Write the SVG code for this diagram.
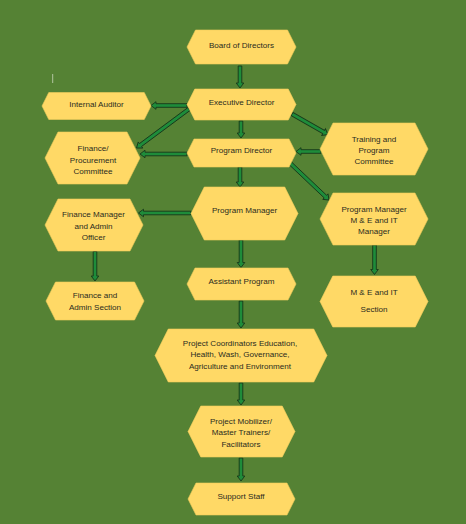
<svg xmlns="http://www.w3.org/2000/svg" width="466" height="524" viewBox="0 0 466 524">
<style>
.node polygon{fill:#FFD966;stroke:#F2CC5C;stroke-width:0.6}
.node text{font-family:"Liberation Sans",Arial,sans-serif;font-size:8.1px;fill:#2b2b20;text-anchor:middle}
.arr{fill:#1E8C3A;stroke:#17381A;stroke-width:0.9;stroke-linejoin:miter}
</style>
<rect width="466" height="524" fill="#558234"/>
<line x1="52.7" y1="74" x2="52.7" y2="83" stroke="#c9d6bd" stroke-width="0.8"/>
<g id="connectors">
<path class="arr" transform="translate(240,66) rotate(90)" d="M0,-1.8H17V-3.8L22,0L17,3.8V1.8H0Z"/>
<path class="arr" transform="translate(241,121) rotate(90)" d="M0,-1.8H12V-3.8L17,0L12,3.8V1.8H0Z"/>
<path class="arr" transform="translate(240,167) rotate(90)" d="M0,-1.8H15V-3.8L20,0L15,3.8V1.8H0Z"/>
<path class="arr" transform="translate(187,105.5) rotate(180)" d="M0,-1.8H31V-3.8L36,0L31,3.8V1.8H0Z"/>
<path class="arr" transform="translate(189,109) rotate(143.4)" d="M0,-1.8H60.4V-3.8L65.4,0L60.4,3.8V1.8H0Z"/>
<path class="arr" transform="translate(187,154) rotate(180)" d="M0,-1.8H42V-3.8L47,0L42,3.8V1.8H0Z"/>
<path class="arr" transform="translate(292,114) rotate(29.7)" d="M0,-1.8H36.4V-3.8L41.4,0L36.4,3.8V1.8H0Z"/>
<path class="arr" transform="translate(321,151.5) rotate(180)" d="M0,-1.8H20V-3.8L25,0L20,3.8V1.8H0Z"/>
<path class="arr" transform="translate(290,163) rotate(43.5)" d="M0,-1.8H48.8V-3.8L53.8,0L48.8,3.8V1.8H0Z"/>
<path class="arr" transform="translate(374.5,245) rotate(90)" d="M0,-1.8H24.5V-3.8L29.5,0L24.5,3.8V1.8H0Z"/>
<path class="arr" transform="translate(191,213) rotate(180)" d="M0,-1.8H47.5V-3.8L52.5,0L47.5,3.8V1.8H0Z"/>
<path class="arr" transform="translate(95,251.5) rotate(90)" d="M0,-1.8H24.5V-3.8L29.5,0L24.5,3.8V1.8H0Z"/>
<path class="arr" transform="translate(241,240) rotate(90)" d="M0,-1.8H22.5V-3.8L27.5,0L22.5,3.8V1.8H0Z"/>
<path class="arr" transform="translate(241,301) rotate(90)" d="M0,-1.8H22V-3.8L27,0L22,3.8V1.8H0Z"/>
<path class="arr" transform="translate(241,383) rotate(90)" d="M0,-1.8H17V-3.8L22,0L17,3.8V1.8H0Z"/>
<path class="arr" transform="translate(241,458) rotate(90)" d="M0,-1.8H18V-3.8L23,0L18,3.8V1.8H0Z"/>
</g>
<g id="board" class="node"><polygon points="187,47 195.5,30 287.5,30 296,47 287.5,64 195.5,64"/><text x="241.5" y="48">Board of Directors</text></g>
<g id="executive" class="node"><polygon points="187,104.5 194.75,89 288.25,89 296,104.5 288.25,120 194.75,120"/><text x="241.5" y="105">Executive Director</text></g>
<g id="auditor" class="node"><polygon points="42,106 48.75,92.5 144.25,92.5 151,106 144.25,119.5 48.75,119.5"/><text x="96.5" y="107">Internal Auditor</text></g>
<g id="finproc" class="node"><polygon points="45,158 58,132 127,132 140,158 127,184 58,184"/><text x="93" y="151.3">Finance/</text><text x="93" y="162.5">Procurement</text><text x="93" y="174">Committee</text></g>
<g id="progdir" class="node"><polygon points="187,153 194,139 289,139 296,153 289,167 194,167"/><text x="241.5" y="153">Program Director</text></g>
<g id="training" class="node"><polygon points="320,149 333,123 415,123 428,149 415,175 333,175"/><text x="374" y="141.5">Training and</text><text x="374" y="152.5">Program</text><text x="374" y="164">Committee</text></g>
<g id="pmme" class="node"><polygon points="320,219 333,193 415,193 428,219 415,245 333,245"/><text x="374" y="212">Program Manager</text><text x="374" y="223">M &amp; E and IT</text><text x="374" y="234.3">Manager</text></g>
<g id="mesection" class="node"><polygon points="320,301.5 332.75,276 415.25,276 428,301.5 415.25,327 332.75,327"/><text x="374" y="294.7">M &amp; E and IT</text><text x="374" y="312.3">Section</text></g>
<g id="progmgr" class="node"><polygon points="191,213.5 204.25,187 284.75,187 298,213.5 284.75,240 204.25,240"/><text x="244.5" y="213">Program Manager</text></g>
<g id="finmgr" class="node"><polygon points="45,225 58,199 130,199 143,225 130,251 58,251"/><text x="93.5" y="217">Finance Manager</text><text x="93.5" y="228.7">and Admin</text><text x="93.5" y="240.3">Officer</text></g>
<g id="finsec" class="node"><polygon points="46,301 55.5,282 134.5,282 144,301 134.5,320 55.5,320"/><text x="95" y="298.3">Finance and</text><text x="95" y="310">Admin Section</text></g>
<g id="assistant" class="node"><polygon points="187,284 195,268 288,268 296,284 288,300 195,300"/><text x="241.5" y="284">Assistant Program</text></g>
<g id="coordinators" class="node"><polygon points="155,355.5 168.25,329 313.75,329 327,355.5 313.75,382 168.25,382"/><text x="240" y="346.3">Project Coordinators Education,</text><text x="240" y="357.3">Health, Wash, Governance,</text><text x="240" y="369">Agriculture and Environment</text></g>
<g id="mobilizer" class="node"><polygon points="188,431.5 200.75,406 282.25,406 295,431.5 282.25,457 200.75,457"/><text x="241" y="423.7">Project Mobilizer/</text><text x="241" y="435.3">Master Trainers/</text><text x="241" y="447">Facilitators</text></g>
<g id="support" class="node"><polygon points="188,499 196,483 287,483 295,499 287,515 196,515"/><text x="241" y="498.7">Support Staff</text></g>
</svg>
